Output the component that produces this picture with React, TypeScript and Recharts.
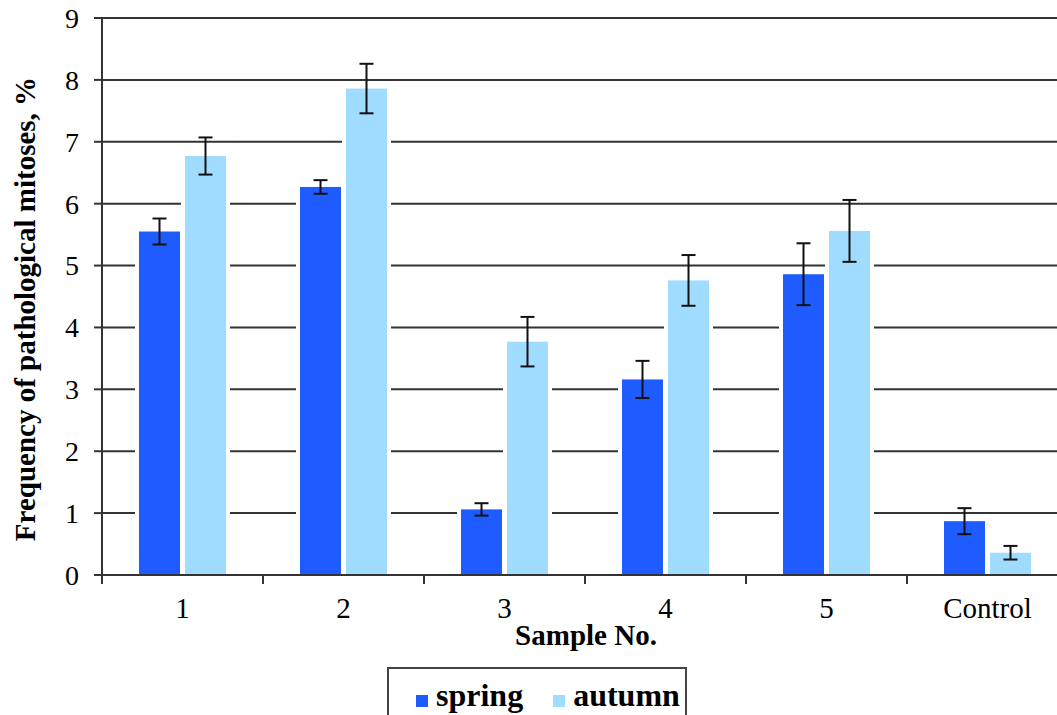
import { BarChart, Bar, XAxis, YAxis, CartesianGrid, ErrorBar, Legend } from 'recharts';

const samples = ['1', '2', '3', '4', '5', 'Control'];
const spring = [5.55, 6.27, 1.06, 3.16, 4.86, 0.87];
const springErr = [0.21, 0.11, 0.1, 0.3, 0.5, 0.21];
const autumn = [6.77, 7.86, 3.77, 4.76, 5.56, 0.36];
const autumnErr = [0.3, 0.4, 0.4, 0.41, 0.5, 0.11];
const yTicks = [0, 1, 2, 3, 4, 5, 6, 7, 8, 9];
const seriesOrder = ['spring', 'autumn'];

const SPRING = '#1f5cff';
const AUTUMN = '#9fdcff';
const AXIS = '#333';
const FONT = "'Liberation Serif', 'Times New Roman', serif";

const data = samples.map((s, i) => ({
  sample: s,
  spring: spring[i],
  springErr: springErr[i],
  autumn: autumn[i],
  autumnErr: autumnErr[i],
}));

// bar with a white halo so the grid lines stop short of it
function HaloBar(props: any) {
  const { x, y, width, height, fill } = props;
  if (width == null || height == null) return null;
  return (
    <g>
      <rect x={x - 4} y={y - 4} width={width + 8} height={height + 4} fill="#fff" />
      <rect x={x} y={y} width={width} height={height} fill={fill} />
    </g>
  );
}

// label centred in the band, tick mark on the band edge
function SampleTick(props: any) {
  const { x, y, payload } = props;
  const half = payload?.offset ?? 0;
  return (
    <g>
      <line x1={x - half} y1={y} x2={x - half} y2={y + 9} stroke={AXIS} strokeWidth={2} />
      <text x={x} y={y + 43} textAnchor="middle" fontSize={29} fill="#000" fontFamily={FONT}>
        {payload.value}
      </text>
    </g>
  );
}

function YTitle() {
  return (
    <text
      x={35}
      y={309}
      transform="rotate(-90, 35, 309)"
      textAnchor="middle"
      fontSize={29}
      fontWeight="bold"
      fill="#000"
      fontFamily={FONT}
    >
      Frequency of pathological mitoses, %
    </text>
  );
}

function XTitle(props: any) {
  const vb = props.viewBox || { x: 102, y: 575, width: 966 };
  return (
    <text
      x={vb.x + vb.width / 2 + 1}
      y={vb.y + 70}
      textAnchor="middle"
      fontSize={29}
      fontWeight="bold"
      fill="#000"
      fontFamily={FONT}
    >
      Sample No.
    </text>
  );
}

function LegendBox(props: any) {
  const items = [...(props.payload || [])].sort(
    (a: any, b: any) => seriesOrder.indexOf(a.value) - seriesOrder.indexOf(b.value)
  );
  return (
    <div
      style={{
        boxSizing: 'border-box',
        width: 300,
        height: 60,
        border: '2px solid #444',
        display: 'flex',
        alignItems: 'flex-start',
        paddingLeft: 27,
        paddingTop: 8,
        fontFamily: FONT,
        fontWeight: 'bold',
        fontSize: 32,
        color: '#000',
      }}
    >
      {items.map((it: any, i: number) => (
        <div key={it.value} style={{ display: 'flex', alignItems: 'center', marginRight: i === 0 ? 30 : 0 }}>
          <span
            style={{
              display: 'inline-block',
              width: 12,
              height: 12,
              background: it.color,
              marginRight: 8,
              marginTop: 10,
            }}
          />
          <span>{it.value}</span>
        </div>
      ))}
    </div>
  );
}

export default function App() {
  return (
    <div
      style={{
        position: 'fixed',
        left: 0,
        top: 0,
        width: 1057,
        height: 715,
        overflow: 'hidden',
        background: '#fff',
      }}
    >
      <BarChart
        width={1080}
        height={740}
        data={data}
        margin={{ top: 18, right: 12, left: 0, bottom: 85 }}
        barSize={41}
        barGap={5}
      >
        <CartesianGrid vertical={false} stroke={AXIS} strokeWidth={2} />
        <XAxis
          dataKey="sample"
          height={80}
          interval={0}
          tickLine={false}
          tickSize={0}
          tickMargin={0}
          axisLine={{ stroke: AXIS, strokeWidth: 2 }}
          tick={<SampleTick />}
          label={<XTitle />}
        />
        <YAxis
          domain={[0, 9]}
          ticks={yTicks}
          interval={0}
          width={102}
          tickSize={8}
          tickMargin={15}
          axisLine={{ stroke: AXIS, strokeWidth: 2 }}
          tickLine={{ stroke: AXIS, strokeWidth: 2 }}
          tick={{ fontSize: 28, fill: '#000', fontFamily: FONT }}
          label={<YTitle />}
        />
        <Legend
          layout="horizontal"
          verticalAlign="middle"
          align="center"
          wrapperStyle={{ left: 387, top: 667, width: 300, height: 60 }}
          content={<LegendBox />}
        />
        <Bar dataKey="spring" name="spring" fill={SPRING} shape={<HaloBar />} isAnimationActive={false}>
          <ErrorBar dataKey="springErr" width={7} stroke="#111" strokeWidth={2} isAnimationActive={false} />
        </Bar>
        <Bar dataKey="autumn" name="autumn" fill={AUTUMN} shape={<HaloBar />} isAnimationActive={false}>
          <ErrorBar dataKey="autumnErr" width={7} stroke="#111" strokeWidth={2} isAnimationActive={false} />
        </Bar>
      </BarChart>
    </div>
  );
}
